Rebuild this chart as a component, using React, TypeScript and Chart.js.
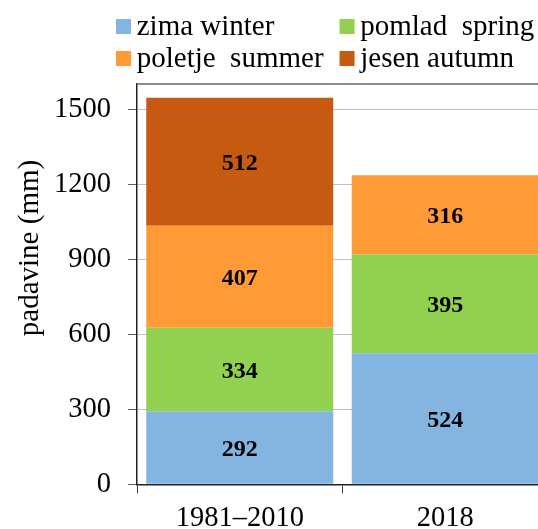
import React, { useEffect, useRef } from "react";
import { Chart, registerables } from "chart.js";

Chart.register(...registerables);

const categories = ["1981–2010", "2018"];
const seriesLabels = ["zima winter", "pomlad  spring", "poletje  summer", "jesen autumn"];
const zima = [292, 524];
const pomlad = [334, 395];
const poletje = [407, 316];
const jesen: (number | null)[] = [512, null];
const seriesColors = ["#84B4E0", "#92D050", "#FF9A36", "#C65A11"];
const yTicks = [0, 300, 600, 900, 1200, 1500];
const yMin = 0;
const yMax = 1600;
const yTitle = "padavine (mm)";

const FONT = '"Liberation Serif", "Times New Roman", serif';

const gridLegend = {
  id: "gridLegend",
  afterDraw(chart: any) {
    const ctx = chart.ctx;
    const ds = chart.data.datasets;
    ctx.save();
    ctx.font = `29px ${FONT}`;
    ctx.textAlign = "left";
    ctx.textBaseline = "alphabetic";
    const left = 116, box = 15, gap = 5.7, colGap = 16, top = 19, rowH = 32;
    const col1W = Math.max(
      ctx.measureText(ds[0].label).width,
      ctx.measureText(ds[2].label).width
    );
    const colX = [left, left + box + gap + col1W + colGap];
    ds.forEach((d: any, i: number) => {
      const col = i % 2;
      const row = Math.floor(i / 2);
      const x = colX[col];
      const y = top + row * rowH;
      ctx.fillStyle = d.backgroundColor;
      ctx.fillRect(x, y, box, box);
      ctx.fillStyle = "#000";
      ctx.fillText(d.label, x + box + gap, y + 16);
    });
    ctx.restore();
  },
};

const axisTitle = {
  id: "axisTitle",
  afterDraw(chart: any) {
    const ctx = chart.ctx;
    ctx.save();
    ctx.font = `29px ${FONT}`;
    ctx.fillStyle = "#000";
    ctx.textAlign = "center";
    ctx.textBaseline = "alphabetic";
    ctx.translate(37.5, 248);
    ctx.rotate(-Math.PI / 2);
    ctx.fillText(yTitle, 0, 0);
    ctx.restore();
  },
};

const plotFrame = {
  id: "plotFrame",
  beforeDatasetsDraw(chart: any) {
    const { ctx, chartArea } = chart;
    ctx.save();
    ctx.strokeStyle = "#8C8C8C";
    ctx.lineWidth = 2;
    ctx.beginPath();
    ctx.moveTo(chartArea.left, chartArea.top);
    ctx.lineTo(chartArea.right, chartArea.top);
    ctx.lineTo(chartArea.right, chartArea.bottom);
    ctx.stroke();
    ctx.restore();
  },
};

const valueLabels = {
  id: "valueLabels",
  afterDatasetsDraw(chart: any) {
    const ctx = chart.ctx;
    ctx.save();
    ctx.font = `bold 24px ${FONT}`;
    ctx.fillStyle = "#000";
    ctx.textAlign = "center";
    ctx.textBaseline = "middle";
    chart.data.datasets.forEach((d: any, di: number) => {
      const meta = chart.getDatasetMeta(di);
      meta.data.forEach((el: any, i: number) => {
        const v = d.data[i];
        if (v === null || v === undefined) return;
        const p = el.getProps(["x", "y", "base"], true);
        ctx.fillText(String(v), p.x, (p.y + p.base) / 2 + 2);
      });
    });
    ctx.restore();
  },
};

export default function App() {
  const ref = useRef<HTMLCanvasElement | null>(null);

  useEffect(() => {
    if (!ref.current) return;
    const series = [zima, pomlad, poletje, jesen];
    const chart = new Chart(ref.current, {
      type: "bar",
      data: {
        labels: categories,
        datasets: series.map((data, i) => ({
          label: seriesLabels[i],
          data,
          backgroundColor: seriesColors[i],
          borderWidth: 0,
          categoryPercentage: 1,
          barPercentage: 0.91,
        })),
      },
      options: {
        responsive: false,
        animation: false,
        devicePixelRatio: 1,
        layout: { padding: { top: 84, right: 12, left: 0, bottom: 0 } },
        plugins: {
          legend: { display: false },
          tooltip: { enabled: false },
          title: { display: false },
        },
        scales: {
          x: {
            stacked: true,
            z: 1,
            grid: {
              display: true,
              drawOnChartArea: false,
              drawTicks: true,
              tickLength: 9,
              tickColor: "#404040",
              offset: true,
            },
            border: { display: true, color: "#222222", width: 1.5 },
            ticks: {
              color: "#000",
              font: { family: FONT, size: 28.5 },
              padding: 8,
              maxRotation: 0,
            },
            afterFit(scale: any) {
              scale.height = 44.7;
            },
          },
          y: {
            stacked: true,
            min: yMin,
            max: yMax,
            grid: {
              color: "#C0C0C0",
              lineWidth: 1,
              tickLength: 9,
              tickColor: "#606060",
            },
            border: { display: true, color: "#222222", width: 1.5 },
            ticks: {
              color: "#000",
              font: { family: FONT, size: 28.5 },
              padding: 17,
              callback: (v: any) => String(v),
            },
            afterBuildTicks(scale: any) {
              scale.ticks = yTicks.map((v) => ({ value: v }));
            },
            afterFit(scale: any) {
              scale.width = 137;
            },
            title: { display: false },
          },
        },
      },
      plugins: [plotFrame, valueLabels, gridLegend, axisTitle],
    });
    return () => chart.destroy();
  }, []);

  return (
    <div
      style={{
        position: "fixed",
        left: 0,
        top: 0,
        width: 538,
        height: 529,
        overflow: "hidden",
        background: "#fff",
      }}
    >
      <canvas ref={ref} width={560} height={529} style={{ display: "block" }} />
    </div>
  );
}
